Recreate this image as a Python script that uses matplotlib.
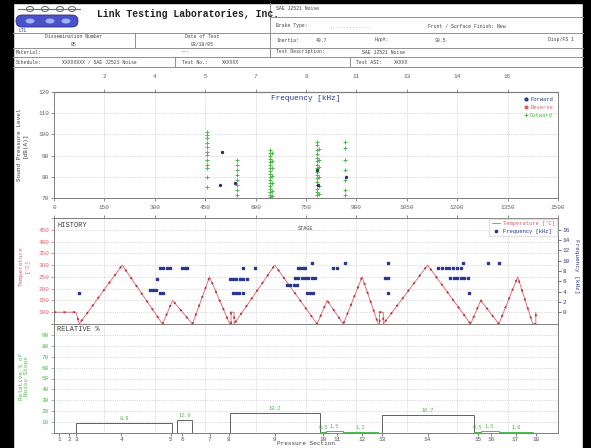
import matplotlib
matplotlib.use('Agg')
import matplotlib.pyplot as plt
from matplotlib.patches import Rectangle, FancyBboxPatch, Ellipse

plt.rcParams['font.family'] = ['Liberation Mono', 'DejaVu Sans Mono']

W, H = 591, 448

# ---- header texts
lab_name = 'Link Testing Laboratories, Inc.'
test_name = 'SAE J2521 Noise'
brake_type = 'Front / Surface Finish: New'
diss_no = '05'
test_date = '03/18/05'
inertia = '40.7'
hyp = '30.5'
material = '---'
schedule = 'XXXXXXXX / SAE J2521 Noise'
test_no = 'XXXXXX'
test_asi = 'XXXXX'

# ---- top panel: sound pressure level scatter
x_ticks = [0, 150, 300, 450, 600, 750, 900, 1050, 1200, 1350, 1500]
top_labels = ['2', '4', '5', '7', '9', '11', '13', '14', '16']
out_cols = [454, 544, 642, 650, 783, 790, 867]
out_db = [
    [101.1, 99.7, 98.3, 95.9, 94.1, 91.7, 90.3, 87.9, 85.6, 84.2, 79.9, 75.2],
    [87.9, 85.6, 83.2, 80.8, 78.5, 76.1, 73.8, 71.4],
    [92.6, 91.2, 89.8, 88.4, 87.0, 85.6, 84.2, 82.7, 81.3, 79.9, 78.5, 77.1, 75.7, 74.2, 72.8, 71.4, 70.5],
    [91.0, 87.5, 84.0, 80.5, 77.0, 73.5, 71.0],
    [96.4, 94.8, 92.5, 90.6, 89.1, 87.4, 85.8, 84.0, 82.5, 80.9, 79.2, 77.6, 76.0, 74.4, 72.9, 71.4],
    [93.0, 88.0, 84.5, 80.0, 75.5, 72.0],
    [96.4, 93.6, 87.9, 83.2, 78.5, 73.8, 71.4],
]
fwd_x = [499, 493, 538, 783, 785, 870]
fwd_db = [91.7, 76.1, 77.1, 83.2, 76.1, 80.0]
rev_x = []
rev_db = []

# ---- middle panel: temperature history and noise frequencies
temp_t = [0, 66, 75, 203, 323, 353, 412, 463, 523, 527, 527, 536, 536,
          657, 783, 813, 861, 917, 965, 969, 969, 980, 980,
          1112, 1240, 1270, 1324, 1380, 1425, 1434, 1434]
temp_c = [100, 100, 50, 300, 50, 150, 50, 250, 50, 50, 100, 100, 50,
          300, 50, 150, 50, 250, 50, 50, 100, 100, 50,
          300, 50, 150, 50, 250, 50, 50, 100]
hist_t = [75, 287, 296, 305, 314, 323, 308, 314, 323, 335, 344, 380, 389, 397,
          523, 533, 543, 553, 563, 574, 532, 542, 552, 562, 562, 598,
          693, 703, 713, 723, 726, 732, 740, 747, 768,
          717, 727, 737, 747, 757, 767, 777, 753, 762, 771,
          831, 843, 867, 995, 986, 995, 995,
          1144, 1155, 1166, 1177, 1188, 1199, 1210, 1216,
          1180, 1190, 1200, 1210, 1220, 1231, 1234, 1291, 1324]
hist_khz = [3.8, 4.4, 4.4, 4.4, 3.8, 3.8, 6.5, 8.5, 8.5, 8.5, 8.5, 8.5, 8.5, 8.5,
            6.5, 6.5, 6.5, 6.5, 6.5, 6.5, 3.8, 3.8, 3.8, 3.8, 8.5, 8.5,
            5.2, 5.2, 5.2, 5.2, 8.5, 8.5, 8.5, 8.5, 9.6,
            6.7, 6.7, 6.7, 6.7, 6.7, 6.7, 6.7, 3.8, 3.8, 3.8,
            8.5, 8.5, 9.6, 9.6, 6.7, 6.7, 3.8,
            8.5, 8.5, 8.5, 8.5, 8.5, 8.5, 8.5, 9.6,
            6.7, 6.7, 6.7, 6.7, 6.7, 6.7, 3.8, 9.6, 9.6]

# ---- bottom panel: relative % of noisy stops per section
sec_pos = [15, 45, 66, 200, 347, 382, 463, 520, 657, 801, 843, 917, 977, 1112, 1261, 1300, 1374, 1434]
sec_start = [0, 30, 60, 66, 350, 365, 412, 515, 523, 792, 810, 861, 965, 977, 1249, 1270, 1324, 1425]
sec_end = [30, 60, 66, 350, 365, 412, 515, 523, 792, 810, 861, 965, 977, 1249, 1270, 1324, 1425, 1440]
sec_pct = [0, 0, 0, 8.9, 0, 12.0, 0, 0, 18.2, 0.5, 1.5, 1.2, 0, 16.7, 0.5, 1.5, 1.0, 0]

RED = '#e0606a'
DRED = '#b8323c'
BLUE = '#2a3590'
GREEN = '#4cb84c'
GRID = '#b8b8b8'
TXT = '#404040'

fig = plt.figure(figsize=(W / 100, H / 100), dpi=100)

# page / header drawn in pixel coordinates
pg = fig.add_axes([0, 0, 1, 1])
pg.set_xlim(0, W)
pg.set_ylim(H, 0)
pg.axis('off')
pg.add_patch(Rectangle((0, 0), 13, H, color='black'))
pg.add_patch(Rectangle((583, 0), 8, H, color='black'))
pg.add_patch(Rectangle((0, 0), W, 3, color='black'))

lk = dict(color='#909090', lw=0.7)
pg.plot([13, 583], [67, 67], **lk)
pg.plot([13, 583], [57, 57], **lk)
pg.plot([13, 583], [48, 48], **lk)
pg.plot([13, 583], [33, 33], **lk)
pg.plot([270, 583], [17, 17], **lk)
pg.plot([270, 270], [3, 57], **lk)
pg.plot([135, 135], [33, 48], **lk)
pg.plot([175, 175], [57, 67], **lk)
pg.plot([350, 350], [57, 67], **lk)

# logo
pg.plot([18, 80], [9, 9], color='#707070', lw=0.8)
for cx in [30, 45, 60, 72]:
    pg.add_patch(Ellipse((cx, 9), 7, 5, fc='white', ec='#606060', lw=0.7))
pg.add_patch(FancyBboxPatch((16, 15), 62, 12, boxstyle='round,pad=0,rounding_size=6',
                            fc='#4b52c8', ec='#2a2f8a', lw=0.6))
for cx in [30, 50, 66]:
    pg.add_patch(Ellipse((cx, 21), 9, 5, fc='#9fb0ff', ec='none'))
pg.text(18, 31, 'LTL', fontsize=3.5, color='#2a2f8a', va='center')

pg.text(97, 14, lab_name, fontsize=7, fontweight='bold', color='#202020', va='center')
fs = 3.4
pg.text(276, 9, test_name, fontsize=fs, color=TXT, va='center')
pg.text(276, 26, 'Brake Type:', fontsize=fs, color=TXT, va='center')
pg.text(330, 26, '...............', fontsize=fs, color='#909090', va='center')
pg.text(428, 26, brake_type, fontsize=fs, color=TXT, va='center')
pg.text(74, 37, 'Dissemination Number', fontsize=fs, color=TXT, ha='center', va='center')
pg.text(74, 44, diss_no, fontsize=fs, color=TXT, ha='center', va='center')
pg.text(202, 37, 'Date of Test', fontsize=fs, color=TXT, ha='center', va='center')
pg.text(202, 44, test_date, fontsize=fs, color=TXT, ha='center', va='center')
pg.text(276, 40, 'Inertia:', fontsize=fs, color=TXT, va='center')
pg.text(316, 40, inertia, fontsize=fs, color=TXT, va='center')
pg.text(375, 40, 'Hyp#:', fontsize=fs, color=TXT, va='center')
pg.text(435, 40, hyp, fontsize=fs, color=TXT, va='center')
pg.text(548, 40, 'Disp/FS 1', fontsize=fs, color=TXT, va='center')
pg.text(16, 52, 'Material:', fontsize=fs, color=TXT, va='center')
pg.text(180, 52, material, fontsize=fs, color=TXT, va='center')
pg.text(276, 52, 'Test Description:', fontsize=fs, color=TXT, va='center')
pg.text(362, 52, test_name, fontsize=fs, color=TXT, va='center')
pg.text(16, 62, 'Schedule:', fontsize=fs, color=TXT, va='center')
pg.text(62, 62, schedule, fontsize=fs, color=TXT, va='center')
pg.text(182, 62, 'Test No.:', fontsize=fs, color=TXT, va='center')
pg.text(222, 62, test_no, fontsize=fs, color=TXT, va='center')
pg.text(356, 62, 'Test ASI:', fontsize=fs, color=TXT, va='center')
pg.text(394, 62, test_asi, fontsize=fs, color=TXT, va='center')


def px_axes(l, t, r, b):
    return fig.add_axes([l / W, 1 - b / H, (r - l) / W, (b - t) / H])


def style(ax):
    for s in ax.spines.values():
        s.set_color('#808080')
        s.set_linewidth(0.7)
    ax.tick_params(labelsize=4.3, length=2, width=0.5, pad=1.5, colors='#606060')
    ax.set_xlim(0, 1500)
    ax.set_xticks(x_ticks)
    ax.grid(True, color=GRID, lw=0.5, ls=':')


# ---- top panel
ax1 = px_axes(54, 92, 558, 198)
style(ax1)
ax1.set_ylim(70, 120)
ax1.set_yticks([70, 80, 90, 100, 110, 120])
ax1.set_xticklabels([str(v) for v in x_ticks])
ax1.tick_params(axis='x', pad=3)
for cx, dbs in zip(out_cols, out_db):
    ax1.plot([cx] * len(dbs), dbs, ls='none', marker='+', ms=2.2, mew=0.7, color=GREEN)
ax1.plot(fwd_x, fwd_db, ls='none', marker='o', ms=1.4, color='#303060')
ax1.plot([], [], ls='none', marker='o', ms=2, color=BLUE, label='Forward')
ax1.plot(rev_x, rev_db, ls='none', marker='o', ms=2, color=RED, label='Reverse')
ax1.plot([], [], ls='none', marker='+', ms=2.5, mew=0.7, color=GREEN, label='Outward')
leg = ax1.legend(loc='upper right', fontsize=4, frameon=False, handlelength=0.6,
                 handletextpad=0.5, labelspacing=0.5, borderaxespad=0.5)
for t, c in zip(leg.get_texts(), [BLUE, RED, GREEN]):
    t.set_color(c)
ax1.text(0.5, 0.94, 'Frequency [kHz]', transform=ax1.transAxes, ha='center', va='center',
         fontsize=5.5, color=BLUE)
top = ax1.secondary_xaxis('top')
top.set_xticks(x_ticks[1:-1])
top.set_xticklabels(top_labels)
top.tick_params(labelsize=4.3, length=2, width=0.5, pad=7, colors='#606060')
fig.text(22 / W, 1 - 145 / H, 'Sound Pressure Level\n[dB(A)]', rotation=90, fontsize=4.3,
         color=TXT, ha='center', va='center', linespacing=1.2)

# ---- middle panel
ax2 = px_axes(54, 218, 558, 324)
style(ax2)
ax2.set_xticklabels([])
ax2.tick_params(axis='x', top=True, bottom=False)
ax2.set_ylim(50, 500)
ax2.set_yticks([50, 100, 150, 200, 250, 300, 350, 400, 450, 500])
ax2.set_yticklabels(['', '100', '150', '200', '250', '300', '350', '400', '450', ''])
ax2.tick_params(axis='y', colors=RED)
ax2.plot(temp_t, temp_c, color=RED, lw=0.6, label='Temperature [°C]')
ax2.plot(temp_t, temp_c, color=DRED, lw=1.3, dashes=(1.2, 4))
ax2r = ax2.twinx()
ax2r.set_ylim(-16 / 7, 16 + 16 / 7)
ax2r.set_yticks([0, 2, 4, 6, 8, 10, 12, 14, 16])
ax2r.tick_params(labelsize=4.3, length=2, width=0.5, pad=1.5, colors=BLUE)
for s in ax2r.spines.values():
    s.set_color('#808080')
    s.set_linewidth(0.7)
ax2r.plot(hist_t, hist_khz, ls='none', marker='s', ms=1.5, color=BLUE, label='Frequency [kHz]')
h1, l1 = ax2.get_legend_handles_labels()
h2, l2 = ax2r.get_legend_handles_labels()
leg2 = ax2r.legend(h1 + h2, l1 + l2, loc='upper right', fontsize=4, frameon=True,
                   handlelength=1.5, handletextpad=0.5, labelspacing=0.4, borderaxespad=0.2,
                   fancybox=False, edgecolor='#dddddd')
for t, c in zip(leg2.get_texts(), [RED, BLUE]):
    t.set_color(c)
ax2.text(0.006, 0.965, 'HISTORY', transform=ax2.transAxes, fontsize=5, color=TXT, va='top')
ax2.text(0.50, 0.90, 'STAGE', transform=ax2.transAxes, fontsize=3.8, color=TXT,
         ha='center', va='center')
fig.text(24 / W, 1 - 266 / H, 'Temperature\n[°C]', rotation=90, fontsize=4.3,
         color=RED, ha='center', va='center', linespacing=1.2)
fig.text(577 / W, 1 - 266 / H, 'Frequency [kHz]', rotation=270, fontsize=4.3,
         color=BLUE, ha='center', va='center')

# ---- bottom panel
ax3 = px_axes(54, 324, 558, 433)
style(ax3)
ax3.set_ylim(0, 100)
ax3.set_yticks(range(0, 101, 10))
ax3.set_yticklabels([''] + [str(v) for v in range(10, 100, 10)] + [''])
ax3.tick_params(axis='y', colors=GREEN)
ax3.set_xticks(sec_pos, minor=False)
ax3.set_xticklabels([str(i + 1) for i in range(len(sec_pos))])
ax3.tick_params(axis='x', colors='#505050', pad=1)
ax3.xaxis.grid(False)
for xv in x_ticks[1:-1]:
    ax3.axvline(xv, color=GRID, lw=0.5, ls=':')
for s0, s1, v in zip(sec_start, sec_end, sec_pct):
    if v <= 0:
        continue
    ec = '#606060' if v >= 5 else GREEN
    ax3.bar(s0, v, width=s1 - s0, align='edge', fill=False, edgecolor=ec, lw=0.7)
    ax3.text((s0 + s1) / 2, v + 2, f'{v:.1f}', fontsize=3.8, color=GREEN, ha='center', va='bottom')
ax3.text(0.006, 0.985, 'RELATIVE %', transform=ax3.transAxes, fontsize=5, color=TXT, va='top')
fig.text(306 / W, 1 - 443.5 / H, 'Pressure Section', fontsize=4.3, color=TXT,
         ha='center', va='center')
fig.text(24 / W, 1 - 376 / H, 'Relative % of\nNoisy Stops', rotation=90, fontsize=4.3,
         color=GREEN, ha='center', va='center', linespacing=1.2)

fig.savefig('out.png', dpi=100)
